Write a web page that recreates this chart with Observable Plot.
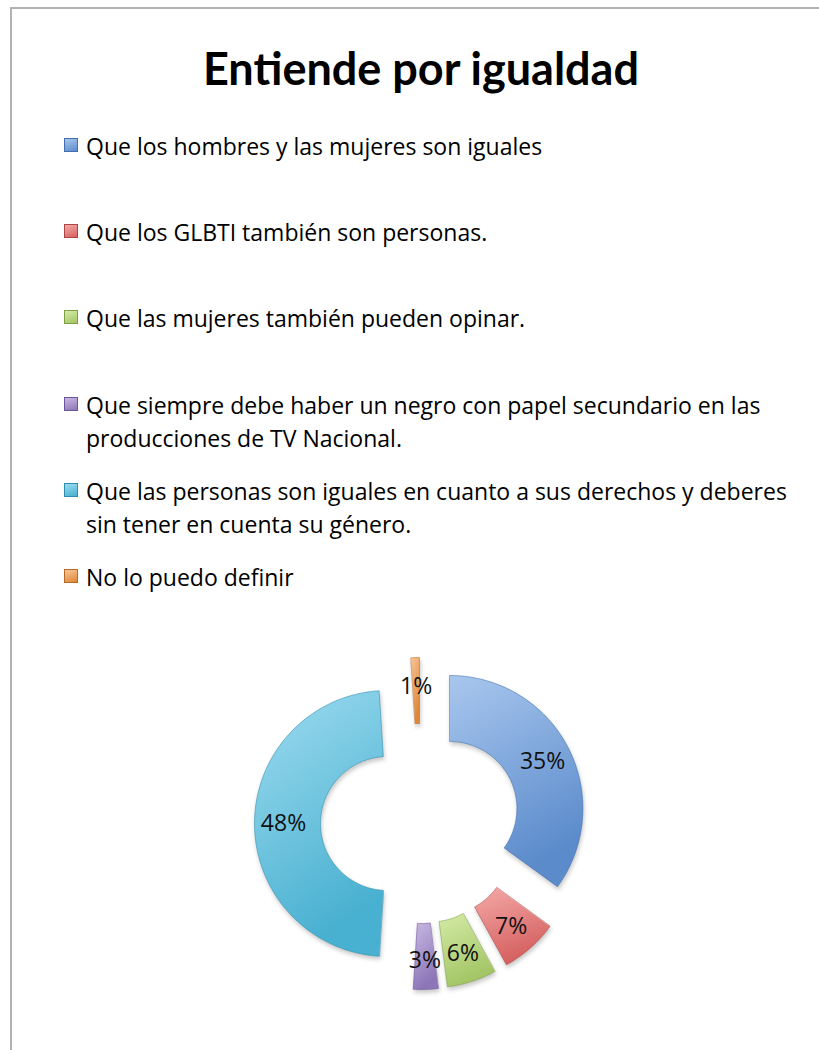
<!DOCTYPE html>
<html><head><meta charset="utf-8">
<script src="https://cdn.jsdelivr.net/npm/d3@7"></script>
<script src="https://cdn.jsdelivr.net/npm/@observablehq/plot@0.6"></script>
<style>
html,body{margin:0;padding:0;background:#fff;}
body{width:819px;height:1050px;position:relative;overflow:hidden;font-family:Lato,"Open Sans",sans-serif;color:#000;}
#frame{position:absolute;left:10px;top:7px;width:900px;height:1200px;border-left:2px solid #b2b2b2;border-top:2px solid #b2b2b2;}
#title{position:absolute;left:0;width:842px;top:38px;text-align:center;font-weight:700;font-size:45px;line-height:60px;}
.item{position:absolute;left:64px;width:745px;}
.sw{position:absolute;left:0;width:14px;height:14px;box-sizing:border-box;}
.txt{position:absolute;left:22px;font-family:"Open Sans",Lato,sans-serif;font-size:23px;line-height:33px;white-space:nowrap;}
#chart{position:absolute;left:0;top:615px;}
#chart path{filter:drop-shadow(1px 3px 2px rgba(0,0,0,0.22));}
</style></head><body>
<div id="frame"></div>
<div id="title">Entiende por igualdad</div>
<div id="legend"></div>
<div id="chart"></div>
<script>
const title = "Entiende por igualdad";
const categories = [
  "Que los hombres y las mujeres son iguales",
  "Que los GLBTI también son personas.",
  "Que las mujeres también pueden opinar.",
  "Que siempre debe haber un negro con papel secundario en las producciones de TV Nacional.",
  "Que las personas son iguales en cuanto a sus derechos y deberes sin tener en cuenta su género.",
  "No lo puedo definir"
];
const percents = [35, 7, 6, 3, 48, 1];
const wrapAfterWords = [0, 0, 0, 11, 12, 0];
const lightColors = ["#a9c7ee", "#f4aaa8", "#d4eba6", "#c8b9e3", "#9edcf0", "#f8c495"];
const darkColors  = ["#5b8bcb", "#d56160", "#a3c565", "#8d75b7", "#48b0d0", "#de8838"];
const edgeColors  = ["#3f6fae", "#b04442", "#7f9f45", "#6c5596", "#2d8eae", "#b8692a"];

// ---- legend (HTML) ----
const legend = d3.select("#legend");
const rowTop0 = 130, rowStep = 86.2;
categories.forEach((c, i) => {
  const words = c.split(" ");
  const lines = wrapAfterWords[i] ? [words.slice(0, wrapAfterWords[i]).join(" "), words.slice(wrapAfterWords[i]).join(" ")] : [c];
  const item = legend.append("div").attr("class", "item").style("top", (rowTop0 + i * rowStep) + "px");
  item.append("div").attr("class", "sw")
    .style("top", "8px")
    .style("background", `linear-gradient(160deg, ${lightColors[i]} 0%, ${darkColors[i]} 100%)`)
    .style("border", `1px solid ${edgeColors[i]}`);
  lines.forEach((l, k) => item.append("div").attr("class", "txt").style("top", (k * 33) + "px").text(l));
});

// ---- doughnut (Plot) ----
const W = 819, H = 430;
const cx = 420, cy = 208;          // centre in svg coordinates
const R = 133, r = 67, explode = 33, labelR = 104;
const arcs = d3.pie().sort(null).value(d => d)(percents);
const slices = arcs.map((a, i) => {
  const mid = (a.startAngle + a.endAngle) / 2;
  const ox = cx + explode * Math.sin(mid), oy = cy - explode * Math.cos(mid);
  const n = Math.max(3, Math.ceil((a.endAngle - a.startAngle) / 0.02));
  const pts = [];
  for (let k = 0; k <= n; k++) {
    const t = a.startAngle + (a.endAngle - a.startAngle) * k / n;
    pts.push({x: ox + R * Math.sin(t), y: oy - R * Math.cos(t)});
  }
  for (let k = n; k >= 0; k--) {
    const t = a.startAngle + (a.endAngle - a.startAngle) * k / n;
    pts.push({x: ox + r * Math.sin(t), y: oy - r * Math.cos(t)});
  }
  return {i, pts, lx: ox + labelR * Math.sin(mid), ly: oy - labelR * Math.cos(mid), label: percents[i] + "%"};
});

const marks = slices.map(s => Plot.line(s.pts, {
  x: "x", y: "y", curve: "linear-closed",
  fill: `url(#grad${s.i})`, stroke: edgeColors[s.i], strokeWidth: 0.7, strokeOpacity: 0.8
}));
marks.push(Plot.text(slices, {
  x: "lx", y: "ly", text: "label", fontSize: 23, fill: "#111",
  fontFamily: "'Open Sans', Lato, sans-serif", textAnchor: "middle", lineAnchor: "middle"
}));

const svg = Plot.plot({
  width: W, height: H,
  margin: 0,
  x: {domain: [0, W], range: [0, W], axis: null},
  y: {domain: [0, H], range: [0, H], axis: null},
  style: {background: "transparent", overflow: "visible"},
  marks
});
const defs = d3.select(svg).insert("defs", ":first-child");
slices.forEach(s => {
  const g = defs.append("linearGradient").attr("id", "grad" + s.i)
    .attr("x1", 0).attr("y1", 0).attr("x2", 0.35).attr("y2", 1);
  g.append("stop").attr("offset", "0%").attr("stop-color", lightColors[s.i]);
  g.append("stop").attr("offset", "100%").attr("stop-color", darkColors[s.i]);
});
document.getElementById("chart").appendChild(svg);
</script>
</body></html>
